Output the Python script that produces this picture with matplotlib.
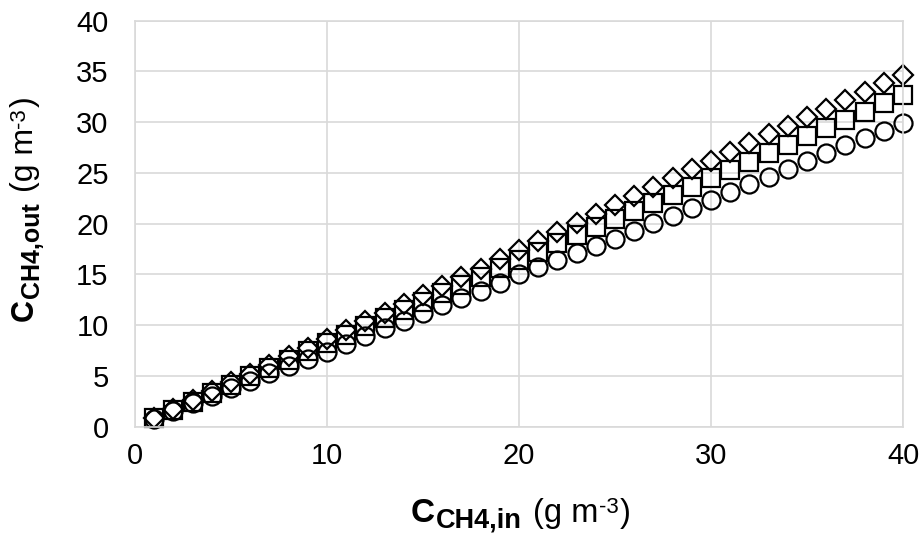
import matplotlib
matplotlib.use("Agg")
import matplotlib.pyplot as plt

plt.rcParams['font.family'] = ['Liberation Sans', 'DejaVu Sans']

c_in = list(range(1, 41))

diamond_out = [0.87, 1.74, 2.62, 3.49, 4.36, 5.24, 6.11, 6.97, 7.80, 8.65,
               9.52, 10.40, 11.25, 12.10, 12.98, 13.85, 14.72, 15.58, 16.48, 17.40,
               18.30, 19.20, 20.10, 20.98, 21.87, 22.73, 23.62, 24.50, 25.35, 26.20,
               27.07, 27.92, 28.80, 29.63, 30.48, 31.30, 32.15, 32.98, 33.82, 34.65]

square_out = [0.83, 1.66, 2.48, 3.30, 4.12, 4.95, 5.77, 6.60, 7.42, 8.25,
              9.07, 9.88, 10.70, 11.50, 12.33, 13.15, 13.96, 14.78, 15.60, 16.45,
              17.25, 18.06, 18.85, 19.66, 20.45, 21.25, 22.05, 22.85, 23.66, 24.47,
              25.30, 26.10, 26.93, 27.75, 28.60, 29.40, 30.22, 31.05, 31.88, 32.68]

circle_out = [0.78, 1.55, 2.30, 3.03, 3.78, 4.50, 5.25, 5.98, 6.70, 7.40,
              8.15, 8.95, 9.70, 10.45, 11.20, 11.95, 12.65, 13.35, 14.15, 15.00,
              15.75, 16.45, 17.15, 17.85, 18.50, 19.30, 20.05, 20.76, 21.52, 22.33,
              23.10, 23.88, 24.63, 25.40, 26.20, 26.98, 27.72, 28.42, 29.13, 29.89]

x_ticks = [0, 10, 20, 30, 40]
y_ticks = [0, 5, 10, 15, 20, 25, 30, 35, 40]

W, H = 922, 535
fig = plt.figure(figsize=(W / 100, H / 100), dpi=100)
ax = fig.add_axes([135 / W, (H - 426.7) / H, (903 - 135) / W, (426.7 - 20.7) / H])

mk = dict(linestyle='none', markerfacecolor='none', markeredgecolor='black',
          markeredgewidth=1.6, clip_on=False)
ax.plot(c_in, diamond_out, marker='D', markersize=10.2, **mk)
ax.plot(c_in, square_out, marker='s', markersize=12.6, **mk)
ax.plot(c_in, circle_out, marker='o', markersize=13.0, **mk)

ax.set_xlim(0, 40)
ax.set_ylim(0, 40)
ax.set_xticks(x_ticks)
ax.set_yticks(y_ticks)
ax.tick_params(axis='both', length=0, labelsize=21, colors='black')
ax.tick_params(axis='y', pad=19)
ax.tick_params(axis='x', pad=11)
ax.grid(True, color='#d9d9d9', linewidth=1.2)
ax.set_axisbelow(True)
for s in ax.spines.values():
    s.set_color('#d9d9d9')
    s.set_linewidth(1.2)


def compose(pieces, center_px, base_px, vertical=False):
    """pieces: (text, size, weight, offset_px, gap_px). Positions in px from
    figure's left/bottom."""
    renderer = fig.canvas.get_renderer()
    widths = []
    for txt, size, weight, off, gap in pieces:
        t = fig.text(0, 0, txt, fontsize=size, fontweight=weight)
        widths.append(t.get_window_extent(renderer).width)
        t.remove()
    total = sum(widths) + sum(p[4] for p in pieces)
    pos = center_px - total / 2
    for (txt, size, weight, off, gap), w in zip(pieces, widths):
        pos += gap
        if vertical:
            x, y = base_px - off, pos
            rot = 90
        else:
            x, y = pos, base_px + off
            rot = 0
        fig.text(x / W, y / H, txt, fontsize=size, fontweight=weight,
                 ha='left', va='baseline', rotation=rot, rotation_mode='anchor')
        pos += w


x_pieces = [('C', 24, 'bold', 0, 0),
            ('CH4,in', 19.5, 'bold', -6, 1),
            ('(g m', 23.5, 'normal', 0, 12),
            ('-3', 16, 'normal', 9, 0),
            (')', 23.5, 'normal', 0, 1)]
compose(x_pieces, 520.5, H - 522)

y_pieces = [('C', 22, 'bold', 0, 0),
            ('CH4,out', 18, 'bold', -5.5, 1),
            ('(g m', 23, 'normal', 0, 10),
            ('-3', 16, 'normal', 8.5, 0),
            (')', 23, 'normal', 0, 1)]
compose(y_pieces, H - 208.5, 33, vertical=True)

fig.savefig('out.png', dpi=100)
